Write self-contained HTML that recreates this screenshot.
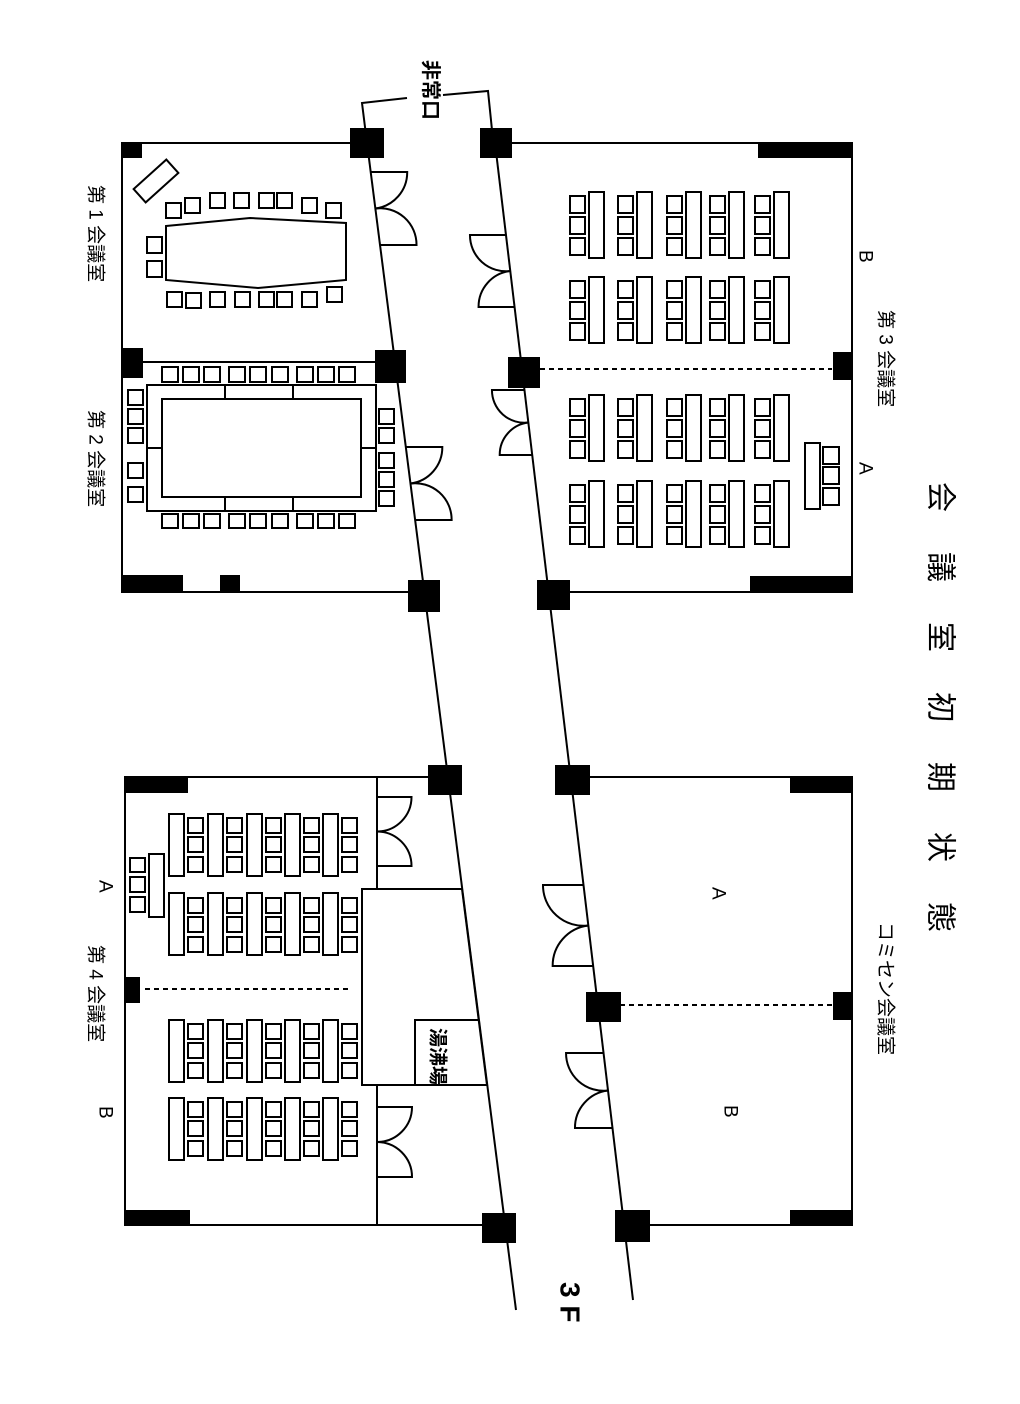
<!DOCTYPE html>
<html><head><meta charset="utf-8"><style>
html,body{margin:0;padding:0;background:#fff;}
svg{display:block;}
text{font-family:"Liberation Sans","Noto Sans CJK JP",sans-serif;fill:#000;}
</style></head><body>
<svg id="s" width="1020" height="1404" viewBox="0 0 1020 1404" xmlns="http://www.w3.org/2000/svg">
<g id="g" fill="none" stroke="#000" stroke-width="2">
<line x1="367" y1="143" x2="516" y2="1310"/>
<line x1="495" y1="143" x2="633" y2="1300"/>
<polyline points="407,98 362,103 367,143"/>
<polyline points="443,95 488,91 492,130"/>
<polyline points="367,143 122,143 122,592 410,592"/>
<line x1="122" y1="362" x2="380" y2="362"/>
<polyline points="512,143 852,143 852,592 560,592"/>
<line x1="540" y1="369" x2="832" y2="369" stroke-dasharray="5,4"/>
<polyline points="445,777 125,777 125,1225 510,1225"/>
<line x1="377" y1="777" x2="377" y2="889"/>
<line x1="377" y1="1085" x2="377" y2="1225"/>
<polygon points="362,889 462,889 487,1085 362,1085"/>
<polyline points="415,1085 415,1020 478,1020"/>
<line x1="145" y1="989" x2="350" y2="989" stroke-dasharray="5,4"/>
<polyline points="570,777 852,777 852,1225 640,1225"/>
<line x1="620" y1="1005" x2="832" y2="1005" stroke-dasharray="5,4"/>
<rect x="134" y="172" width="44" height="18" transform="rotate(-42 156 181)"/>
<polygon points="166,226 250,218 346,223 346,280 258,288 166,280"/>
<rect x="147" y="385" width="229" height="126"/>
<rect x="162" y="399" width="199" height="98"/>
<line x1="225" y1="385" x2="225" y2="399"/><line x1="293" y1="385" x2="293" y2="399"/>
<line x1="225" y1="497" x2="225" y2="511"/><line x1="293" y1="497" x2="293" y2="511"/>
<line x1="147" y1="448" x2="162" y2="448"/><line x1="361" y1="448" x2="376" y2="448"/>
</g>
<g id="b" fill="#000">
<rect x="350" y="128" width="34" height="30"/><rect x="480" y="128" width="32" height="30"/>
<rect x="375" y="350" width="31" height="33"/><rect x="508" y="357" width="32" height="31"/>
<rect x="408" y="580" width="32" height="32"/><rect x="537" y="580" width="33" height="30"/>
<rect x="428" y="765" width="34" height="30"/><rect x="555" y="765" width="35" height="30"/>
<rect x="586" y="992" width="35" height="30"/><rect x="615" y="1210" width="35" height="32"/>
<rect x="482" y="1213" width="34" height="30"/>
<rect x="122" y="143" width="20" height="15"/><rect x="122" y="348" width="21" height="30"/>
<rect x="123" y="575" width="60" height="17"/><rect x="220" y="575" width="20" height="17"/>
<rect x="758" y="143" width="94" height="15"/><rect x="750" y="576" width="102" height="16"/>
<rect x="833" y="352" width="19" height="28"/>
<rect x="125" y="777" width="63" height="16"/><rect x="125" y="1210" width="65" height="15"/>
<rect x="125" y="977" width="15" height="26"/>
<rect x="790" y="777" width="62" height="16"/><rect x="790" y="1210" width="62" height="15"/>
<rect x="833" y="992" width="19" height="28"/>
</g>
<g font-size="19">
<text transform="translate(95,185) rotate(90)" dominant-baseline="central">第 1 会議室</text>
<text transform="translate(95,410) rotate(90)" dominant-baseline="central">第 2 会議室</text>
<text transform="translate(885,310) rotate(90)" dominant-baseline="central">第 3 会議室</text>
<text transform="translate(865,250) rotate(90)" dominant-baseline="central">B</text>
<text transform="translate(865,462) rotate(90)" dominant-baseline="central">A</text>
<text transform="translate(885,922) rotate(90)" dominant-baseline="central">コミセン会議室</text>
<text transform="translate(718,887) rotate(90)" dominant-baseline="central">A</text>
<text transform="translate(730,1105) rotate(90)" dominant-baseline="central">B</text>
<text transform="translate(95,945) rotate(90)" dominant-baseline="central">第 4 会議室</text>
<text transform="translate(105,880) rotate(90)" dominant-baseline="central">A</text>
<text transform="translate(105,1106) rotate(90)" dominant-baseline="central">B</text>
<text transform="translate(437,1028) rotate(90)" dominant-baseline="central" font-weight="bold" font-size="19">湯沸場</text>
<text transform="translate(430,60) rotate(90)" dominant-baseline="central" font-weight="bold" font-size="20">非常口</text>
<text transform="translate(940,482) rotate(90)" dominant-baseline="central" font-size="30" letter-spacing="40">会議室初期状態</text>
<text transform="translate(570,1282) rotate(90)" dominant-baseline="central" font-size="28" font-weight="bold">3 F</text>
</g>
</svg>
<script>
(function(){
var NS="http://www.w3.org/2000/svg",g=document.getElementById('g');
function r(x,y,w,h){var e=document.createElementNS(NS,'rect');e.setAttribute('x',x);e.setAttribute('y',y);e.setAttribute('width',w);e.setAttribute('height',h);g.appendChild(e);}
function p(d){var e=document.createElementNS(NS,'path');e.setAttribute('d',d);g.appendChild(e);}
function L(y){return 367+(y-143)*149/1167;}
function R(y){return 495+(y-143)*138/1157;}
function door(f,y0,y1,dir){var w=(y1-y0)/2,a=f(y0),b=f(y1),m=f((y0+y1)/2),ym=(y0+y1)/2;
 var s1=dir>0?1:0,s2=dir>0?0:1;
 p('M'+a+' '+y0+' h'+(dir*w)+' A'+w+' '+w+' 0 0 '+s1+' '+m+' '+ym);
 p('M'+b+' '+y1+' h'+(dir*w)+' A'+w+' '+w+' 0 0 '+s2+' '+m+' '+ym);}
door(L,172,245,1);door(L,447,520,1);
door(R,235,307,-1);door(R,390,455,-1);
door(R,885,966,-1);door(R,1053,1128,-1);
function door2(x,y0,y1){var w=(y1-y0)/2,ym=(y0+y1)/2;
 p('M'+x+' '+y0+' h'+w+' A'+w+' '+w+' 0 0 1 '+x+' '+ym);
 p('M'+x+' '+y1+' h'+w+' A'+w+' '+w+' 0 0 0 '+x+' '+ym);}
door2(377,797,866);door2(377,1107,1177);
[[166,203],[185,198],[210,193],[234,193],[259,193],[277,193],[302,198],[326,203]].forEach(function(c){r(c[0],c[1],15,15);});
[[167,292],[186,293],[210,292],[235,292],[259,292],[277,292],[302,292],[327,287]].forEach(function(c){r(c[0],c[1],15,15);});
r(147,237,15,16);r(147,261,15,16);
[162,183,204,229,250,272,297,318,339].forEach(function(x){r(x,367,16,15);r(x,514,16,14);});
[390,409,428,463,487].forEach(function(y){r(128,y,15,15);});
[409,428,453,472,491].forEach(function(y){r(379,y,15,15);});
[570,618,667,710,755].forEach(function(x){
 [192,277,395,481].forEach(function(y){r(x+19,y,15,66);r(x,y+4,15,17);r(x,y+25,15,17);r(x,y+46,15,17);});
});
r(805,443,15,66);r(823,447,16,17);r(823,467,16,17);r(823,488,16,17);
[[814,818],[893,898],[1020,1024],[1098,1102]].forEach(function(g2){
 [169,208,247,285,323].forEach(function(x){r(x,g2[0],15,62);r(x+19,g2[1],15,15);r(x+19,g2[1]+19,15,15);r(x+19,g2[1]+39,15,15);});
});
r(149,854,15,63);r(130,858,15,14);r(130,877,15,15);r(130,897,15,15);
})();
</script>
</body></html>
